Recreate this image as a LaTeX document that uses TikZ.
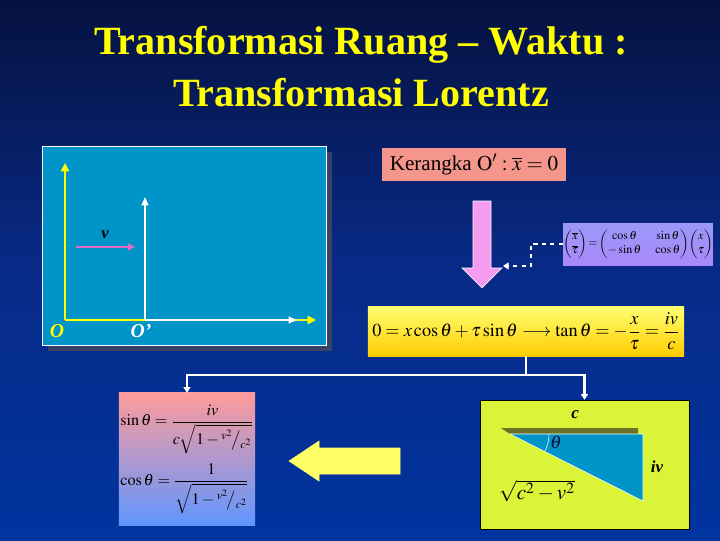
\documentclass[tikz,border=0pt]{standalone}
\usepackage{amsmath}
\usepackage{mathptmx}
\usepackage{fontspec}
\setmainfont{Liberation Serif}
\usetikzlibrary{arrows.meta, positioning, calc}

\definecolor{bgtop}{RGB}{6,18,64}
\definecolor{bgmid}{RGB}{8,42,135}
\definecolor{bgbot}{RGB}{0,52,160}
\definecolor{titleyellow}{RGB}{255,255,0}
\definecolor{panelblue}{RGB}{0,148,200}
\definecolor{salmon}{RGB}{245,150,140}
\definecolor{violetpink}{RGB}{245,155,240}
\definecolor{vpink}{RGB}{225,105,200}
\definecolor{limebox}{RGB}{218,245,55}
\definecolor{olivebar}{RGB}{105,115,40}
\definecolor{lightyellow}{RGB}{255,255,102}
\definecolor{softblue}{RGB}{95,150,255}
\definecolor{softred}{RGB}{255,155,155}

\begin{document}
\begin{tikzpicture}[
    x=0.025cm, y=-0.025cm,
    font=\fontsize{12}{14}\selectfont,
    title/.style={font=\bfseries\fontsize{28.5}{32}\selectfont, text=titleyellow, align=center},
    eq_block/.style={draw=none, inner sep=2pt, align=center},
    axis_y/.style={titleyellow, line width=1.4pt, -{Triangle[width=6pt, length=6pt]}},
    axis_w/.style={white, line width=1pt, -{Triangle[width=5pt, length=6pt]}},
    wire/.style={white, line width=1.5pt, -{Triangle[width=5pt, length=4pt]}},
    lbl/.style={font=\bfseries\itshape\fontsize{12}{14}\selectfont}
]
\useasboundingbox (0,0) rectangle (720,540);

% --- Background ---
\shade[top color=bgtop, bottom color=bgbot, middle color=bgmid] (0,0) rectangle (720,540);

% --- Title ---
\node[title] (T1) at (361,45) {Transformasi Ruang -- Waktu :};
\node[title] (T2) at (361,93) {Transformasi Lorentz};

% --- Frames O and O' ---
\fill[bgtop!80] (48,152) rectangle (332,351);
\node[draw=white, fill=panelblue, minimum width=7.1cm, minimum height=4.975cm] (panel) at (184,245.5) {};
\coordinate (O) at (65,320);
\coordinate (Op) at (145,320);
\draw[axis_y] (O) -- (65,163);
\draw[axis_y] (O) -- (316,320);
\draw[axis_w] (Op) -- (297,320);
\draw[axis_w] (Op) -- (145,197);
\draw[vpink, line width=1.4pt, -{Triangle[width=5pt, length=5pt]}] (76,247) -- (135,247);
\node[lbl, text=black] (v) at (105,235) {v};
\node[lbl, text=titleyellow, font=\bfseries\itshape\fontsize{14}{16}\selectfont] (Olbl) at (57,331) {O};
\node[lbl, text=white, font=\bfseries\itshape\fontsize{14}{16}\selectfont] (Oplbl) at (141,331) {O'};

% --- Frame condition ---
\node[eq_block, fill=salmon, minimum width=4.6cm, minimum height=0.825cm, font=\fontsize{15}{18}\selectfont] (frame) at (474,164.5) {Kerangka $\mathrm{O}' : \overline{x} = 0$};

% big down arrow
\draw[white, line width=0.4pt, fill=violetpink] (473,201) -- (491,201) -- (491,268) -- (502,268) -- (482,288) -- (462,268) -- (473,268) -- cycle;
\coordinate (pinktip) at (503,266);

% --- Rotation matrix ---
\node[eq_block, top color=softblue!60!violetpink, bottom color=blue!45!violetpink!70, minimum width=3.7cm, minimum height=1.05cm, font=\fontsize{8.5}{10}\selectfont, inner sep=0pt] (matrix) at (638,244)
    {$\begin{pmatrix}\overline{x}\\ \overline{\tau}\end{pmatrix}\!=\!\begin{pmatrix}\cos\theta & \sin\theta\\ -\sin\theta & \cos\theta\end{pmatrix}\!\begin{pmatrix}x\\ \tau\end{pmatrix}$};
\draw[white, line width=1.2pt, dashed, -{Triangle[width=5pt, length=4pt]}] (matrix.west) -- ++(-32,0) |- (pinktip);

% --- tan theta ---
\node[eq_block, top color=yellow!55!white, bottom color=orange!40!yellow, minimum width=7.9cm, minimum height=1.25cm, font=\fontsize{13}{15}\selectfont] (tan) at (526,331)
    {$0=x\cos\theta+\tau\sin\theta\longrightarrow\tan\theta=-\dfrac{x}{\tau}=\dfrac{iv}{c}$};
\draw[white, line width=1.5pt] (tan.south) -- ++(0,19) coordinate (split);

% --- sin and cos ---
\node[eq_block, top color=softred, bottom color=softblue, minimum width=3.3cm, minimum height=3.3cm, font=\fontsize{11.5}{13}\selectfont, align=left, inner sep=1pt] (sincos) at (187,459)
    {$\sin\theta=\dfrac{iv}{c\sqrt{1-{}^{v^2}\!\big/{}_{c^2}}}$\\[6pt]
     $\cos\theta=\dfrac{1}{\sqrt{1-{}^{v^2}\!\big/{}_{c^2}}}$};

% --- triangle ---
\node[draw=black, fill=limebox, minimum width=5.225cm, minimum height=3.225cm] (tri) at (584.5,464.5) {};
\fill[olivebar] (501,428) -- (638,428) -- (638,434) -- (510,434) -- cycle;
\draw[white, fill=panelblue] (510,434) -- (643,434) -- (643,501) -- cycle;
\draw[white] (549,434) arc[start angle=0, end angle=-26.7, radius=0.975cm];
\node[lbl, text=black] (c) at (575,415) {c};
\node[lbl, text=bgtop, font=\bfseries\itshape\fontsize{13}{15}\selectfont] (theta) at (556,442) {$\boldsymbol{\theta}$};
\node[lbl, text=black] (iv) at (657,467) {iv};
\node[font=\fontsize{15}{17}\selectfont] (hyp) at (537,491) {$\sqrt{c^2-v^2}$};

\draw[wire] (split) -| (sincos.north);
\draw[wire] (split) -| (tri.north);

% left arrow
\draw[lightyellow, fill=lightyellow] (289,461) -- (319,441) -- (319,448) -- (400,448) -- (400,474) -- (319,474) -- (319,481) -- cycle;

\end{tikzpicture}
\end{document}
